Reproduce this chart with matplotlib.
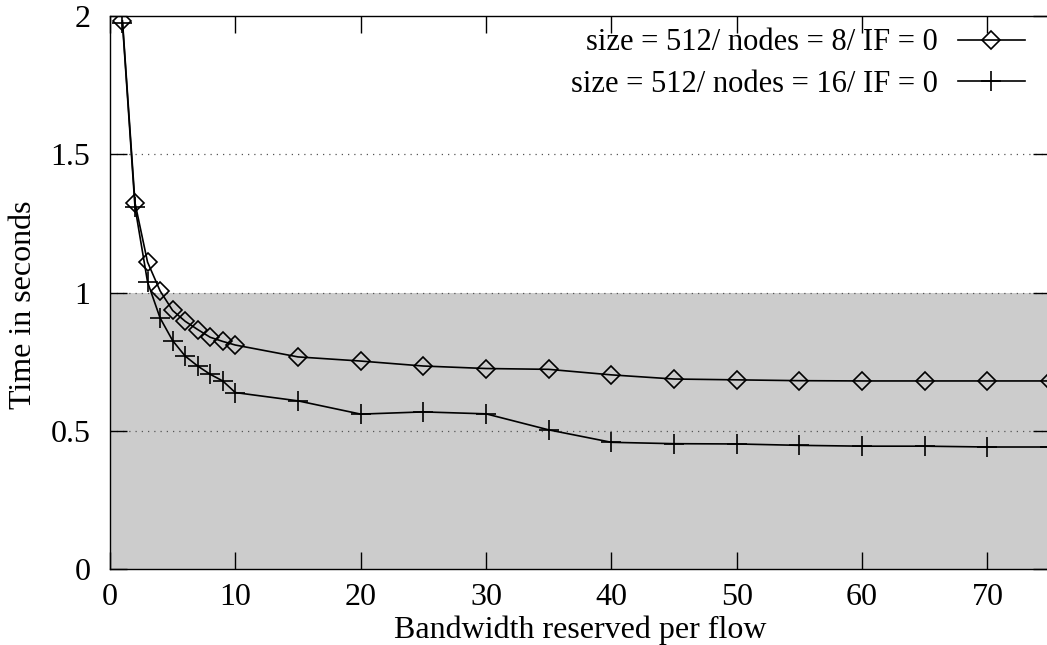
import matplotlib
matplotlib.use("Agg")
import matplotlib.pyplot as plt

plt.rcParams["font.family"] = ["Liberation Serif", "DejaVu Serif"]

bandwidth = [1, 2, 3, 4, 5, 6, 7, 8, 9, 10, 15, 20, 25, 30, 35, 40, 45, 50, 55, 60, 65, 70, 75]
time_n8 = [1.983, 1.324, 1.110, 1.006, 0.935, 0.896, 0.866, 0.838, 0.823, 0.810, 0.767,
           0.752, 0.734, 0.725, 0.722, 0.702, 0.687, 0.684, 0.681, 0.680, 0.680, 0.680, 0.680]
time_n16 = [1.975, 1.309, 1.038, 0.908, 0.826, 0.770, 0.734, 0.704, 0.680, 0.638, 0.608,
            0.560, 0.568, 0.561, 0.503, 0.458, 0.453, 0.452, 0.447, 0.444, 0.444, 0.441, 0.441]
labels = ["size = 512/ nodes = 8/ IF = 0", "size = 512/ nodes = 16/ IF = 0"]

fig = plt.figure(figsize=(10.47, 6.45), dpi=100)
ax = fig.add_axes([0.105, 0.118, 0.898, 0.857])

# gray band below 1 second
ax.axhspan(0, 1, color="#cccccc", zorder=0, lw=0)

for yv in [0.5, 1.0, 1.5]:
    ax.axhline(yv, color="#555555", lw=0.9, ls=(0, (1, 4)), zorder=1)

ax.plot(bandwidth, time_n8, color="black", lw=1.2, marker="D", ms=9,
        mfc="none", mec="black", mew=1.2, label=labels[0], zorder=3)
ax.plot(bandwidth, time_n16, color="black", lw=1.2, marker="+", ms=14,
        mew=1.2, label=labels[1], zorder=3)

ax.set_xlim(0, 75)
ax.set_ylim(0, 2)
ax.set_xticks([0, 10, 20, 30, 40, 50, 60, 70])
ax.set_yticks([0, 0.5, 1, 1.5, 2])
ax.set_yticklabels(["0", "0.5", "1", "1.5", "2"])
ax.tick_params(direction="in", length=12, width=1, labelsize=23,
               top=True, right=True)
ax.tick_params(axis="x", pad=10)
ax.tick_params(axis="y", pad=14)

for s in ax.spines.values():
    s.set_linewidth(1.0)

ax.set_xlabel("Bandwidth reserved per flow", fontsize=23, labelpad=3)
ax.set_ylabel("Time in seconds", fontsize=23)
ax.yaxis.set_label_coords(-0.077, 0.477)

ax.legend(loc="upper right", frameon=False, markerfirst=False, fontsize=22,
          handlelength=2.2, handletextpad=0.65, labelspacing=0.4,
          borderaxespad=0, borderpad=0, bbox_to_anchor=(0.973, 0.978))

fig.savefig("out.png", dpi=100)
